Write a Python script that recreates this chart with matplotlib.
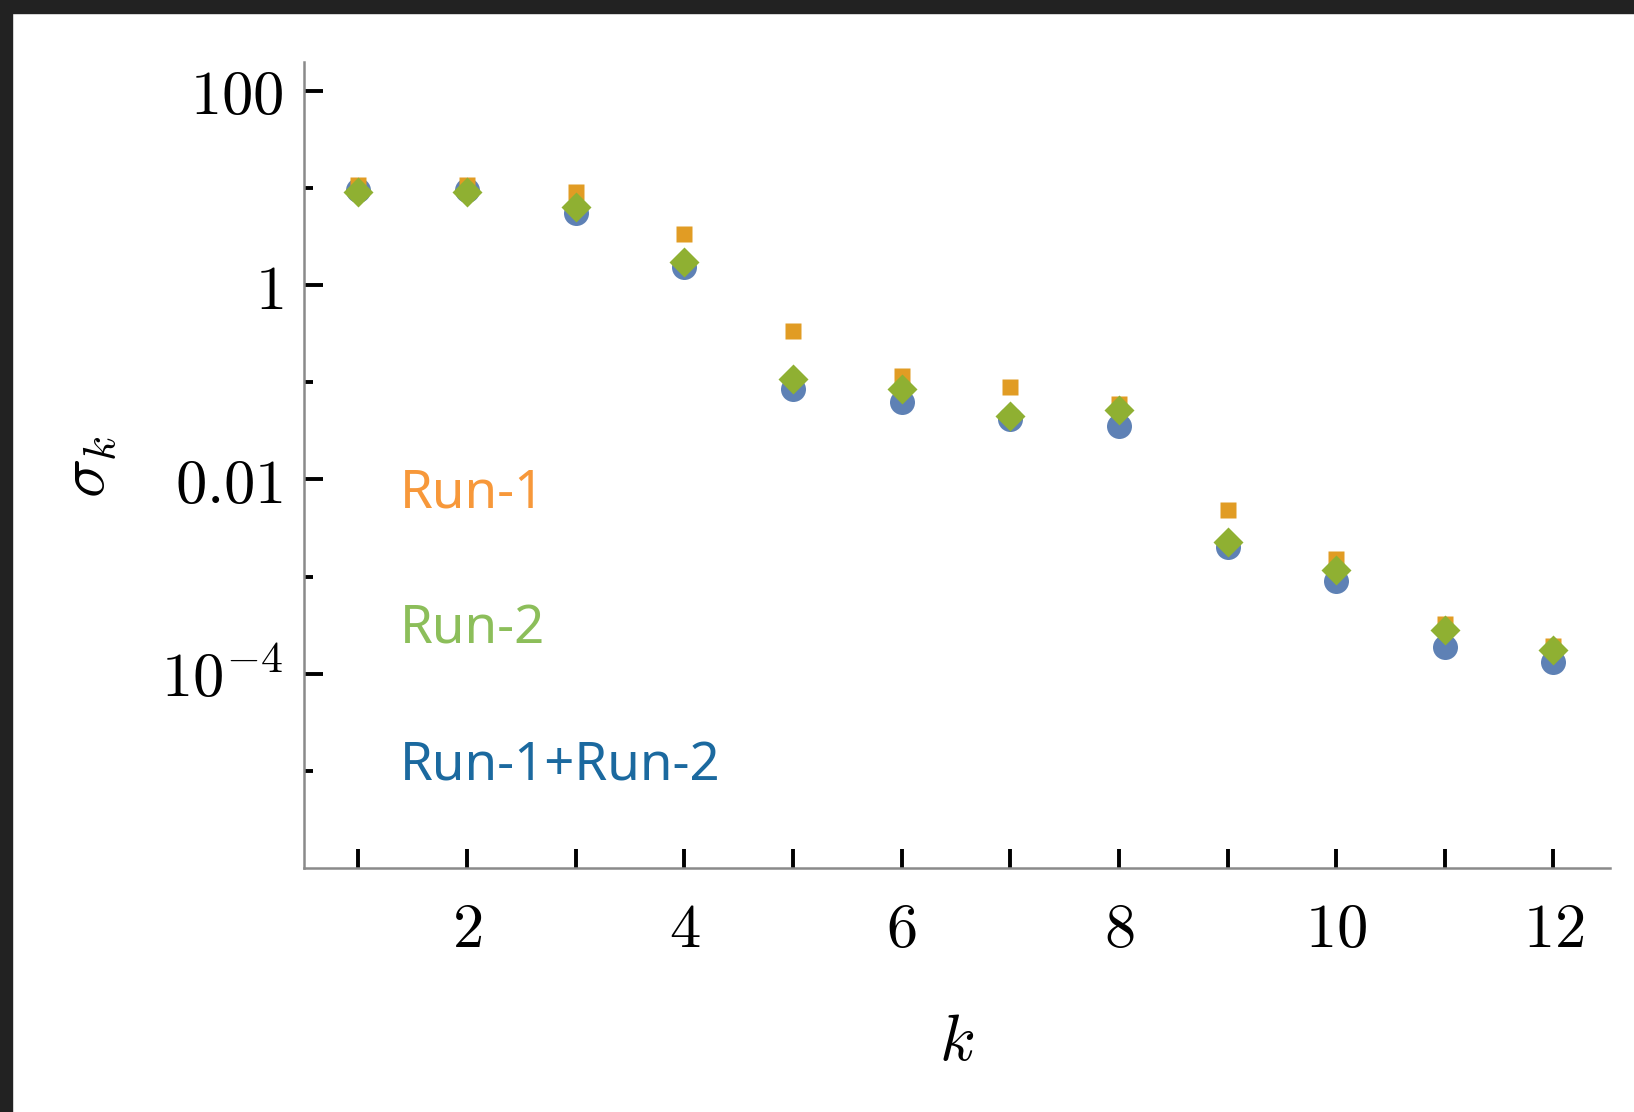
import numpy as np
import matplotlib
matplotlib.use("Agg")
import matplotlib.pyplot as plt
from matplotlib.patches import Rectangle
from matplotlib.ticker import FixedLocator, NullFormatter

plt.rcParams["mathtext.fontset"] = "cm"

# singular values per mode k
k = np.arange(1, 13)
sigma_run1 = [10.6, 10.6, 9.0, 3.37, 0.334, 0.117, 0.089, 0.059, 0.00484, 0.0015, 3.24e-4, 1.94e-4]
sigma_run2 = [9.1, 9.1, 6.4, 1.71, 0.109, 0.0855, 0.0447, 0.0515, 0.00227, 0.00116, 2.81e-4, 1.76e-4]
sigma_both = [9.5, 9.5, 5.5, 1.55, 0.086, 0.0622, 0.0414, 0.0351, 0.00199, 0.00090, 1.89e-4, 1.31e-4]

labels = ["Run-1", "Run-2", "Run-1+Run-2"]
label_colors = ["#F7983A", "#8CBE5A", "#1B699F"]

y_major = [1e2, 1, 1e-2, 1e-4]
y_major_labels = [r"$100$", r"$1$", r"$0.01$", r"$10^{-4}$"]
y_minor = [10, 0.1, 1e-3, 1e-5]
x_labelled = [2, 4, 6, 8, 10, 12]

fig = plt.figure(figsize=(16.34, 11.12), dpi=100)
ax = fig.add_axes([0.1861, 0.2194, 0.7992, 0.7244])

ax.plot(k, sigma_both, "o", ms=18, color="#5E81B5", mec="none", zorder=3)
ax.plot(k, sigma_run1, "s", ms=12.2, color="#E19C24", mec="none", zorder=4)
ax.plot(k, sigma_run2, "D", ms=15.5, color="#8FB032", mec="none", zorder=5)

ax.set_yscale("log")
ax.set_xlim(0.5, 12.52)
ax.set_ylim(1e-6, 10 ** 2.29)

ax.xaxis.set_major_locator(FixedLocator(list(k)))
ax.set_xticklabels([rf"${v}$" if v in x_labelled else "" for v in k])
ax.yaxis.set_major_locator(FixedLocator(y_major))
ax.set_yticklabels(y_major_labels)
ax.yaxis.set_minor_locator(FixedLocator(y_minor))
ax.yaxis.set_minor_formatter(NullFormatter())

ax.tick_params(axis="both", which="major", direction="in", length=13.5,
               width=2.8, color="black", labelsize=45)
ax.tick_params(axis="x", pad=23)
ax.tick_params(axis="y", pad=15)
ax.tick_params(axis="y", which="minor", direction="in", length=6.5,
               width=2.8, color="black")

for side in ["top", "right"]:
    ax.spines[side].set_visible(False)
for side in ["left", "bottom"]:
    ax.spines[side].set_color("#8a8a8a")
    ax.spines[side].set_linewidth(1.8)

ax.set_xlabel(r"$k$", fontsize=47, va="center")
ax.xaxis.set_label_coords(0.5, -0.216)
ax.set_ylabel(r"$\sigma_k$", fontsize=47, va="center")
ax.yaxis.set_label_coords(-0.166, 0.498)

for text, color, yb in zip(labels, label_colors, [0.4473, 0.2793, 0.1092]):
    ax.text(0.0735, yb, text, transform=ax.transAxes, color=color,
            fontsize=38, family="Noto Sans", va="baseline", ha="left")

# dark frame along the top and left edges
fig.patches.append(Rectangle((0, 1 - 13 / 1112), 1, 13 / 1112,
                             transform=fig.transFigure, color="#222222", zorder=10))
fig.patches.append(Rectangle((0, 0), 12 / 1634, 1,
                             transform=fig.transFigure, color="#222222", zorder=10))

fig.savefig("out.png", dpi=100)
